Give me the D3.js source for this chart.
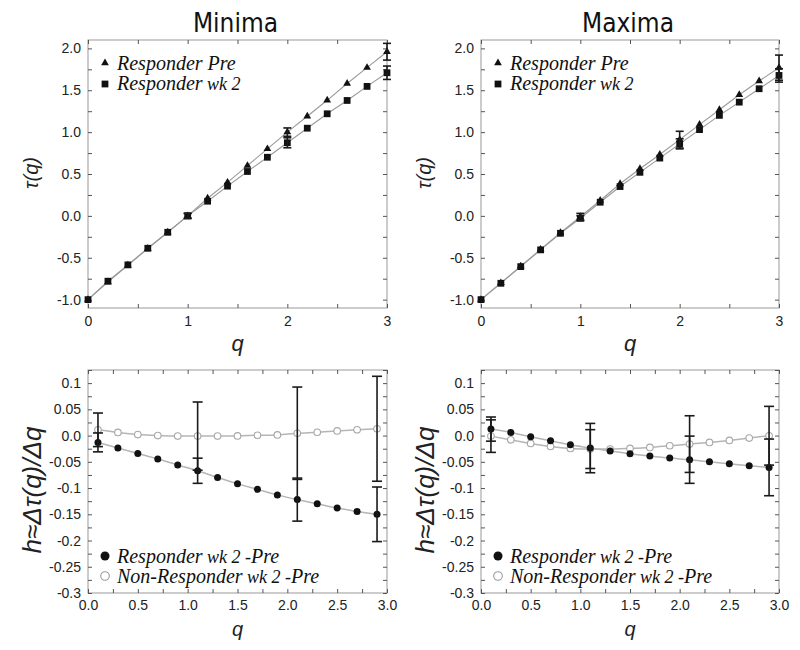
<!DOCTYPE html>
<html>
<head>
  <meta charset="utf-8">
  <script src="https://cdnjs.cloudflare.com/ajax/libs/d3/7.8.5/d3.min.js"></script>
  <style>
    body { margin: 0; padding: 0; background: #fff; }
    .tick text { font: 14px "Liberation Sans", Arial, sans-serif; fill: #222; }
    .tick line { stroke: #555; }
    .title { font: 26px "Liberation Sans Narrow", "DejaVu Sans Condensed", sans-serif; font-stretch: condensed; fill: #111; }
    .alabel { font: italic 20px "Liberation Sans", Arial, sans-serif; fill: #222; }
    .legend { font: italic 20px "Liberation Serif", "Times New Roman", serif; fill: #111; }
  </style>
</head>
<body>
<svg width="800" height="650"></svg>
<script>
// top row: tau(q) vs q
const qTop = [0, 0.2, 0.4, 0.6, 0.8, 1.0, 1.2, 1.4, 1.6, 1.8, 2.0, 2.2, 2.4, 2.6, 2.8, 3.0];
const minimaPre = [-1.0, -0.79, -0.59, -0.39, -0.195, 0.0, 0.21, 0.40, 0.60, 0.80, 1.00, 1.19, 1.38, 1.58, 1.77, 1.96];
const minimaWk2 = [-1.0, -0.78, -0.585, -0.387, -0.196, 0.0, 0.175, 0.355, 0.53, 0.70, 0.873, 1.047, 1.219, 1.378, 1.546, 1.709];
const maximaPre = [-1.0, -0.80, -0.60, -0.40, -0.20, -0.01, 0.183, 0.383, 0.562, 0.733, 0.91, 1.09, 1.267, 1.447, 1.61, 1.77];
const maximaWk2 = [-1.0, -0.805, -0.606, -0.406, -0.208, -0.028, 0.163, 0.35, 0.52, 0.69, 0.86, 1.03, 1.20, 1.358, 1.518, 1.677];
const errQTop = [1, 2, 3];
const minimaPreErr = [0.03, 0.05, 0.10];
const minimaWk2Err = [0.03, 0.06, 0.08];
const maximaPreErr = [0.04, 0.10, 0.15];
const maximaWk2Err = [0.03, 0.06, 0.08];

// bottom row: h = dtau/dq
const qBot = [0.1, 0.3, 0.5, 0.7, 0.9, 1.1, 1.3, 1.5, 1.7, 1.9, 2.1, 2.3, 2.5, 2.7, 2.9];
const minimaResp = [-0.013, -0.0235, -0.034, -0.0445, -0.056, -0.067, -0.080, -0.092, -0.1025, -0.113, -0.122, -0.130, -0.138, -0.1445, -0.150];
const minimaNon = [0.011, 0.006, 0.002, 0.0, -0.001, -0.001, -0.001, -0.0006, 0.0006, 0.0013, 0.0045, 0.0064, 0.0089, 0.011, 0.013];
const maximaResp = [0.0124, 0.006, -0.0023, -0.0099, -0.0175, -0.0238, -0.0295, -0.0347, -0.039, -0.0429, -0.046, -0.050, -0.0537, -0.0575, -0.0606];
const maximaNon = [-0.001, -0.008, -0.0149, -0.0206, -0.0244, -0.0257, -0.0257, -0.0244, -0.0225, -0.0194, -0.0162, -0.013, -0.0092, -0.0048, -0.0003];
const errQBot = [0.1, 1.1, 2.1, 2.9];
const minimaRespErr = [0.018, 0.024, 0.041, 0.052];
const minimaNonErr = [0.032, 0.065, 0.088, 0.10];
const maximaRespErr = [0.023, 0.047, 0.045, 0.054];
const maximaNonErr = [0.031, 0.037, 0.054, 0.056];

// ticks
const xTicksTop = [0, 0.5, 1, 1.5, 2, 2.5, 3];
const xLabelsTop = ["0", "", "1", "", "2", "", "3"];
const yTicksTop = d3.range(-1.0, 2.01, 0.25);
const yLabelsTop = ["-1.0", "", "-0.5", "", "0.0", "", "0.5", "", "1.0", "", "1.5", "", "2.0"];
const xTicksBot = d3.range(0, 3.01, 0.25);
const xLabelsBot = ["0.0", "", "0.5", "", "1.0", "", "1.5", "", "2.0", "", "2.5", "", "3.0"];
const yTicksBot = d3.range(-0.3, 0.126, 0.025);
const yLabelsBot = ["-0.3", "", "-0.25", "", "-0.2", "", "-0.15", "", "-0.1", "", "-0.05", "", "0.0", "", "0.05", "", "0.1", ""];

const titles = ["Minima", "Maxima"];

let svg = d3.select("svg");

//panel geometry
let cols = [{left: 88, right: 387}, {left: 481, right: 779}];
let topRow = {top: 40, bottom: 308}, botRow = {top: 370, bottom: 593};

function fmt(labels, ticks) {
  return function(d) {
    let i = ticks.findIndex(t => Math.abs(t - d) < 1e-6);
    return i < 0 ? "" : labels[i];
  };
}

function frame(g, x, y, xt, xl, yt, yl, xpad) {
  let [x0, x1] = x.range(), [y0, y1] = y.range();
  g.append("rect")
    .attr("x", x0).attr("y", y1)
    .attr("width", x1 - x0).attr("height", y0 - y1)
    .attr("fill", "none").attr("stroke", "#999");
  g.append("g").attr("transform", "translate(0," + y0 + ")")
    .call(d3.axisBottom(x).tickValues(xt).tickSize(-4).tickPadding(xpad).tickFormat(fmt(xl, xt)))
    .call(a => a.select(".domain").remove());
  g.append("g").attr("transform", "translate(0," + y1 + ")")
    .call(d3.axisTop(x).tickValues(xt).tickSize(-4).tickFormat(""))
    .call(a => a.select(".domain").remove());
  g.append("g").attr("transform", "translate(" + x0 + ",0)")
    .call(d3.axisLeft(y).tickValues(yt).tickSize(-4).tickPadding(7).tickFormat(fmt(yl, yt)))
    .call(a => a.select(".domain").remove());
  g.append("g").attr("transform", "translate(" + x1 + ",0)")
    .call(d3.axisRight(y).tickValues(yt).tickSize(-4).tickFormat(""))
    .call(a => a.select(".domain").remove());
}

function series(q, v) {
  return q.map((d, i) => ({q: d, v: v[i]}));
}

function errs(q, v, qe, e) {
  return qe.map((d, i) => ({q: d, v: v[q.findIndex(t => Math.abs(t - d) < 1e-6)], e: e[i]}));
}

function errorBars(g, x, y, data, cap) {
  let eb = g.append("g").attr("stroke", "#1a1a1a").attr("stroke-width", 1.6).attr("fill", "none");
  data.forEach(d => {
    let cx = x(d.q), t = y(d.v + d.e), b = y(d.v - d.e);
    eb.append("line").attr("x1", cx).attr("x2", cx).attr("y1", t).attr("y2", b);
    eb.append("line").attr("x1", cx - cap).attr("x2", cx + cap).attr("y1", t).attr("y2", t);
    eb.append("line").attr("x1", cx - cap).attr("x2", cx + cap).attr("y1", b).attr("y2", b);
  });
}

let topSets = [
  {pre: minimaPre, wk2: minimaWk2, preErr: minimaPreErr, wk2Err: minimaWk2Err},
  {pre: maximaPre, wk2: maximaWk2, preErr: maximaPreErr, wk2Err: maximaWk2Err}
];
let botSets = [
  {resp: minimaResp, non: minimaNon, respErr: minimaRespErr, nonErr: minimaNonErr},
  {resp: maximaResp, non: maximaNon, respErr: maximaRespErr, nonErr: maximaNonErr}
];

let tri = d3.symbol().type(d3.symbolTriangle).size(26);
let sq = d3.symbol().type(d3.symbolSquare).size(46);

// top panels
cols.forEach((c, k) => {
  let g = svg.append("g");
  let x = d3.scaleLinear().domain([0, 3]).range([c.left, c.right]);
  let y = d3.scaleLinear().domain([-1.1, 2.1]).range([topRow.bottom, topRow.top]);
  frame(g, x, y, xTicksTop, xLabelsTop, yTicksTop, yLabelsTop, 8);

  let s = topSets[k];
  let pre = series(qTop, s.pre), wk2 = series(qTop, s.wk2);
  let line = d3.line().x(d => x(d.q)).y(d => y(d.v));
  [pre, wk2].forEach(dd => {
    g.append("path").attr("d", line(dd)).attr("fill", "none")
      .attr("stroke", "#9a9a9a").attr("stroke-width", 1.1);
  });
  g.selectAll(".tri").data(pre).enter().append("path")
    .attr("transform", d => "translate(" + x(d.q) + "," + y(d.v) + ")")
    .attr("d", tri).attr("fill", "#111");
  g.selectAll(".sq").data(wk2).enter().append("path")
    .attr("transform", d => "translate(" + x(d.q) + "," + y(d.v) + ")")
    .attr("d", sq).attr("fill", "#111");
  errorBars(g, x, y, errs(qTop, s.pre, errQTop, s.preErr), 4);
  errorBars(g, x, y, errs(qTop, s.wk2, errQTop, s.wk2Err), 4);

  //legend
  let lx = c.left + 17;
  g.append("path").attr("transform", "translate(" + lx + ",63)").attr("d", tri).attr("fill", "#111");
  g.append("path").attr("transform", "translate(" + lx + ",84)").attr("d", sq).attr("fill", "#111");
  let t1 = g.append("text").attr("class", "legend").attr("x", lx + 12).attr("y", 70);
  t1.append("tspan").text("Responder Pre");
  let t2 = g.append("text").attr("class", "legend").attr("x", lx + 12).attr("y", 90);
  t2.append("tspan").text("Responder");
  t2.append("tspan").attr("font-size", 18).text(" wk 2");

  //labels
  let mid = (c.left + c.right) / 2;
  svg.append("text").attr("class", "title").attr("x", mid - 2).attr("y", 32)
    .attr("text-anchor", "middle").text(titles[k]);
  svg.append("text").attr("class", "alabel").attr("x", mid).attr("y", 351)
    .attr("text-anchor", "middle").style("font-size", "22px").text("q");
  svg.append("text").attr("class", "alabel")
    .attr("transform", "translate(" + (c.left - 50) + ",173) rotate(-90)")
    .attr("text-anchor", "middle").text("τ(q)");
});

// bottom panels
cols.forEach((c, k) => {
  let g = svg.append("g");
  let x = d3.scaleLinear().domain([0, 3]).range([c.left, c.right]);
  let y = d3.scaleLinear().domain([-0.3, 0.125]).range([botRow.bottom, botRow.top]);
  frame(g, x, y, xTicksBot, xLabelsBot, yTicksBot, yLabelsBot, 7);

  let s = botSets[k];
  let resp = series(qBot, s.resp), non = series(qBot, s.non);
  let line = d3.line().curve(d3.curveMonotoneX).x(d => x(d.q)).y(d => y(d.v));
  g.append("path").attr("d", line(non)).attr("fill", "none")
    .attr("stroke", "#b5b5b5").attr("stroke-width", 1.5);
  g.append("path").attr("d", line(resp)).attr("fill", "none")
    .attr("stroke", "#b5b5b5").attr("stroke-width", 1.5);
  g.selectAll(".open").data(non).enter().append("circle")
    .attr("cx", d => x(d.q)).attr("cy", d => y(d.v)).attr("r", 3.3)
    .attr("fill", "#fff").attr("stroke", "#a8a8a8").attr("stroke-width", 1.1);
  g.selectAll(".fill").data(resp).enter().append("circle")
    .attr("cx", d => x(d.q)).attr("cy", d => y(d.v)).attr("r", 3.5)
    .attr("fill", "#111");
  errorBars(g, x, y, errs(qBot, s.non, errQBot, s.nonErr), 5);
  errorBars(g, x, y, errs(qBot, s.resp, errQBot, s.respErr), 5);

  //legend
  let lx = c.left + 17;
  g.append("circle").attr("cx", lx).attr("cy", 556).attr("r", 4.5).attr("fill", "#111");
  g.append("circle").attr("cx", lx).attr("cy", 576).attr("r", 4.3)
    .attr("fill", "#fff").attr("stroke", "#999").attr("stroke-width", 1.1);
  let t1 = g.append("text").attr("class", "legend").attr("x", lx + 12).attr("y", 563);
  t1.append("tspan").text("Responder");
  t1.append("tspan").attr("font-size", 18).text(" wk 2 -");
  t1.append("tspan").text("Pre");
  let t2 = g.append("text").attr("class", "legend").attr("x", lx + 12).attr("y", 583);
  t2.append("tspan").text("Non-Responder");
  t2.append("tspan").attr("font-size", 18).text(" wk 2 -");
  t2.append("tspan").text("Pre");

  let mid = (c.left + c.right) / 2;
  svg.append("text").attr("class", "alabel").attr("x", mid).attr("y", 636)
    .attr("text-anchor", "middle").style("font-size", "20px").text("q");
  svg.append("text").attr("class", "alabel")
    .attr("transform", "translate(" + (c.left - 47) + ",490) rotate(-90)")
    .attr("text-anchor", "middle").style("font-size", "26px")
    .text("h≈Δτ(q)/Δq");
});
</script>
</body>
</html>
